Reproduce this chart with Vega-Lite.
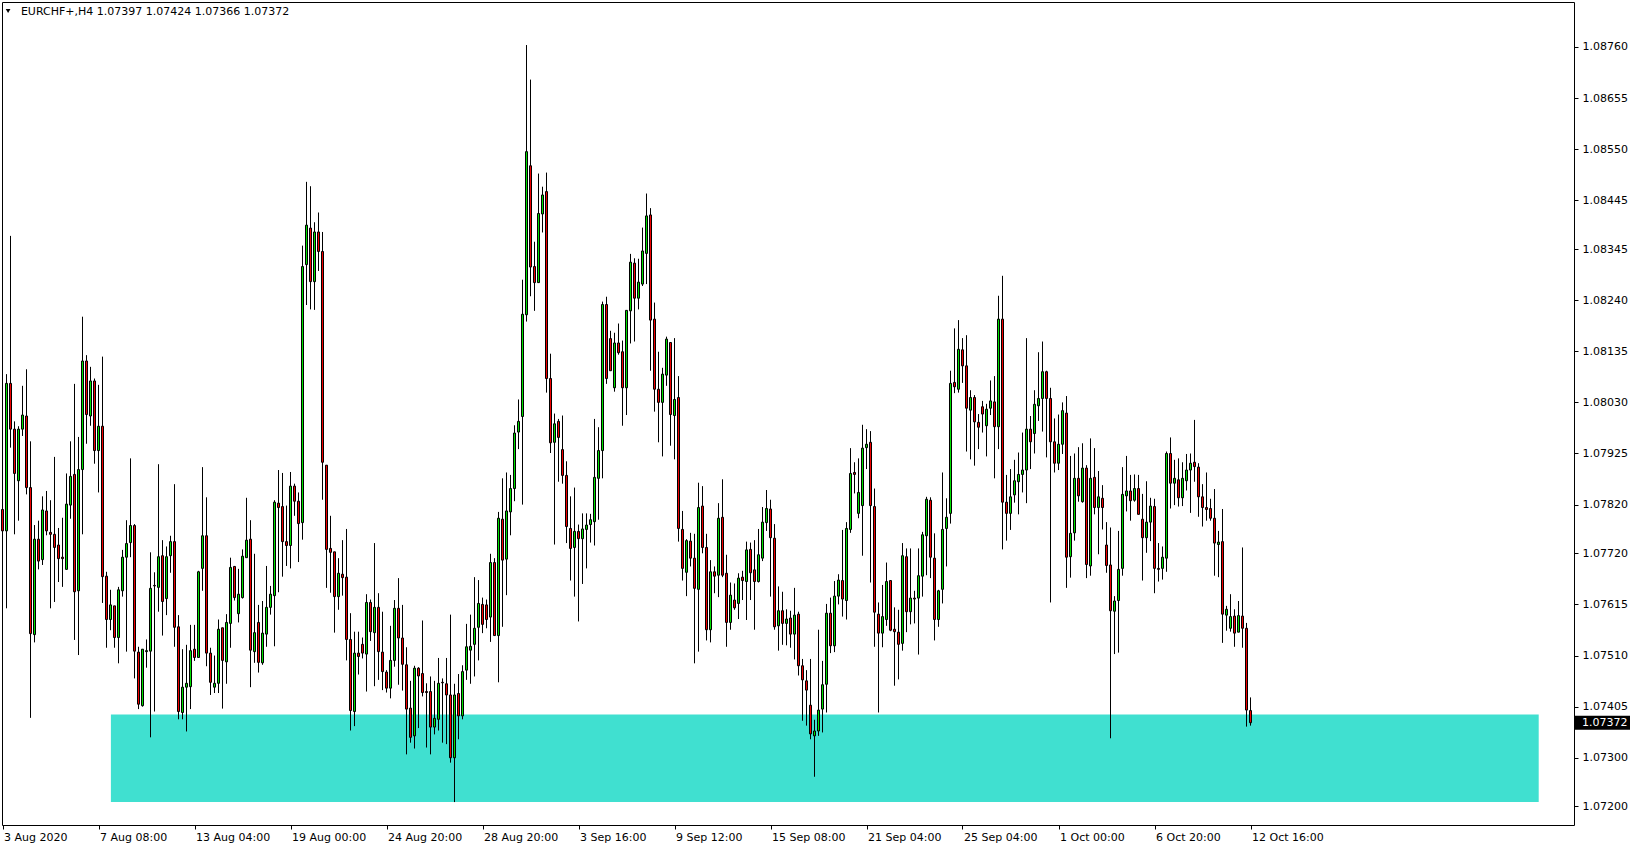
{
"$schema": "https://vega.github.io/schema/vega-lite/v6.json",
"width": 1572, "height": 823,
"autosize": {"type": "none"},
"padding": {"left": 2, "top": 2, "right": 64, "bottom": 25},
"background": "white",
"config": {
  "view": {"stroke": "black", "strokeWidth": 1},
  "scale": {"continuousPadding": 0},
  "axis": {"labelFont": "DejaVu Sans", "labelFontSize": 11, "labelColor": "black", "tickColor": "black", "domain": false, "grid": false, "title": null}
},
"datasets": {
"zone": [{"x1": 27.1, "x2": 384.05, "y1": 1.07209, "y2": 1.07389}],
"last": [{"price": 1.07372}],
"head": [{"t": "EURCHF+,H4  1.07397 1.07424 1.07366 1.07372"}],
"candles": [
{"i":0,"o":1.0781,"h":1.08153,"l":1.07711,"c":1.07766},
{"i":1,"o":1.07766,"h":1.08088,"l":1.07607,"c":1.08069},
{"i":2,"o":1.08069,"h":1.08372,"l":1.07937,"c":1.07975},
{"i":3,"o":1.07975,"h":1.07991,"l":1.07759,"c":1.07884},
{"i":4,"o":1.07869,"h":1.07981,"l":1.07787,"c":1.07975},
{"i":5,"o":1.07975,"h":1.08064,"l":1.07961,"c":1.08004},
{"i":6,"o":1.08002,"h":1.08098,"l":1.07841,"c":1.07855},
{"i":7,"o":1.07855,"h":1.0795,"l":1.07382,"c":1.07555},
{"i":8,"o":1.07553,"h":1.07778,"l":1.07537,"c":1.07749},
{"i":9,"o":1.07749,"h":1.07787,"l":1.07687,"c":1.07704},
{"i":10,"o":1.07707,"h":1.07837,"l":1.07696,"c":1.07809},
{"i":11,"o":1.07807,"h":1.07848,"l":1.07757,"c":1.07766},
{"i":12,"o":1.07763,"h":1.07829,"l":1.07607,"c":1.07759},
{"i":13,"o":1.07759,"h":1.07918,"l":1.0762,"c":1.07732},
{"i":14,"o":1.07737,"h":1.07772,"l":1.07661,"c":1.07709},
{"i":15,"o":1.07712,"h":1.07793,"l":1.07651,"c":1.07709},
{"i":16,"o":1.07687,"h":1.07884,"l":1.07687,"c":1.07821},
{"i":17,"o":1.07819,"h":1.0795,"l":1.07791,"c":1.07878},
{"i":18,"o":1.07882,"h":1.08068,"l":1.07542,"c":1.07641},
{"i":19,"o":1.07643,"h":1.07959,"l":1.07511,"c":1.07892},
{"i":20,"o":1.07892,"h":1.08206,"l":1.07759,"c":1.08115},
{"i":21,"o":1.08115,"h":1.08127,"l":1.07945,"c":1.08005},
{"i":22,"o":1.08002,"h":1.08103,"l":1.07982,"c":1.08074},
{"i":23,"o":1.08074,"h":1.08079,"l":1.07904,"c":1.07931},
{"i":24,"o":1.07931,"h":1.08066,"l":1.07845,"c":1.07981},
{"i":25,"o":1.07981,"h":1.08124,"l":1.07618,"c":1.07672},
{"i":26,"o":1.07673,"h":1.07682,"l":1.07526,"c":1.07584},
{"i":27,"o":1.07584,"h":1.07645,"l":1.07562,"c":1.07614},
{"i":28,"o":1.07612,"h":1.07612,"l":1.07526,"c":1.07547},
{"i":29,"o":1.07547,"h":1.07651,"l":1.07494,"c":1.07645},
{"i":30,"o":1.07643,"h":1.07727,"l":1.07631,"c":1.07712},
{"i":31,"o":1.07712,"h":1.07788,"l":1.07518,"c":1.0774},
{"i":32,"o":1.07742,"h":1.07915,"l":1.07712,"c":1.07777},
{"i":33,"o":1.07777,"h":1.0778,"l":1.07463,"c":1.07519},
{"i":34,"o":1.07517,"h":1.07528,"l":1.074,"c":1.0741},
{"i":35,"o":1.07407,"h":1.07523,"l":1.07405,"c":1.07523},
{"i":36,"o":1.07518,"h":1.07543,"l":1.07485,"c":1.0752},
{"i":37,"o":1.07519,"h":1.07722,"l":1.07342,"c":1.07648},
{"i":38,"o":1.07654,"h":1.07681,"l":1.07395,"c":1.07653},
{"i":39,"o":1.0765,"h":1.07903,"l":1.076,"c":1.07713},
{"i":40,"o":1.07715,"h":1.07747,"l":1.07551,"c":1.07621},
{"i":41,"o":1.07627,"h":1.07734,"l":1.07593,"c":1.07713},
{"i":42,"o":1.07715,"h":1.07756,"l":1.0768,"c":1.07744},
{"i":43,"o":1.07744,"h":1.07862,"l":1.07528,"c":1.07568},
{"i":44,"o":1.07569,"h":1.07593,"l":1.07379,"c":1.07395},
{"i":45,"o":1.07393,"h":1.07523,"l":1.07379,"c":1.07445},
{"i":46,"o":1.07445,"h":1.07532,"l":1.07354,"c":1.07453},
{"i":47,"o":1.07446,"h":1.07573,"l":1.074,"c":1.0752},
{"i":48,"o":1.07523,"h":1.07573,"l":1.07499,"c":1.07506},
{"i":49,"o":1.07506,"h":1.07684,"l":1.07506,"c":1.07682},
{"i":50,"o":1.07689,"h":1.07897,"l":1.07643,"c":1.07756},
{"i":51,"o":1.07756,"h":1.07835,"l":1.07488,"c":1.07515},
{"i":52,"o":1.07515,"h":1.07526,"l":1.07429,"c":1.07455},
{"i":53,"o":1.07445,"h":1.0751,"l":1.07433,"c":1.07453},
{"i":54,"o":1.07453,"h":1.07584,"l":1.07433,"c":1.07564},
{"i":55,"o":1.07567,"h":1.07567,"l":1.07401,"c":1.075},
{"i":56,"o":1.07497,"h":1.07595,"l":1.07452,"c":1.07578},
{"i":57,"o":1.07576,"h":1.07711,"l":1.07526,"c":1.07691},
{"i":58,"o":1.07693,"h":1.07694,"l":1.07623,"c":1.07629},
{"i":59,"o":1.07596,"h":1.07688,"l":1.07578,"c":1.07636},
{"i":60,"o":1.07629,"h":1.07728,"l":1.07627,"c":1.07714},
{"i":61,"o":1.07711,"h":1.07834,"l":1.07711,"c":1.07747},
{"i":62,"o":1.07749,"h":1.07788,"l":1.07445,"c":1.07521},
{"i":63,"o":1.07518,"h":1.07719,"l":1.07495,"c":1.07557},
{"i":64,"o":1.07578,"h":1.07614,"l":1.07475,"c":1.07496},
{"i":65,"o":1.07495,"h":1.07622,"l":1.07491,"c":1.07556},
{"i":66,"o":1.07554,"h":1.07694,"l":1.07528,"c":1.07609},
{"i":67,"o":1.07609,"h":1.07653,"l":1.07594,"c":1.07636},
{"i":68,"o":1.07633,"h":1.07829,"l":1.07529,"c":1.07825},
{"i":69,"o":1.07823,"h":1.07891,"l":1.0764,"c":1.07814},
{"i":70,"o":1.07816,"h":1.07885,"l":1.07672,"c":1.07744},
{"i":71,"o":1.07744,"h":1.07818,"l":1.07694,"c":1.07736},
{"i":72,"o":1.07736,"h":1.07887,"l":1.07689,"c":1.07858},
{"i":73,"o":1.07858,"h":1.07863,"l":1.07797,"c":1.07827},
{"i":74,"o":1.07827,"h":1.07845,"l":1.07702,"c":1.07781},
{"i":75,"o":1.07783,"h":1.08352,"l":1.07748,"c":1.08309},
{"i":76,"o":1.08313,"h":1.08483,"l":1.0823,"c":1.08394},
{"i":77,"o":1.08388,"h":1.08474,"l":1.08221,"c":1.08278},
{"i":78,"o":1.08278,"h":1.084,"l":1.0822,"c":1.0838},
{"i":79,"o":1.0838,"h":1.0842,"l":1.083,"c":1.0834},
{"i":80,"o":1.0834,"h":1.0838,"l":1.0783,"c":1.07907},
{"i":81,"o":1.07901,"h":1.07901,"l":1.07649,"c":1.07728},
{"i":82,"o":1.0773,"h":1.07797,"l":1.07639,"c":1.07722},
{"i":83,"o":1.07723,"h":1.07723,"l":1.07557,"c":1.07631},
{"i":84,"o":1.07631,"h":1.0771,"l":1.07604,"c":1.07679},
{"i":85,"o":1.07677,"h":1.07747,"l":1.07633,"c":1.0767},
{"i":86,"o":1.07671,"h":1.0777,"l":1.075,"c":1.07543},
{"i":87,"o":1.07543,"h":1.07597,"l":1.07356,"c":1.07397},
{"i":88,"o":1.07395,"h":1.07559,"l":1.07365,"c":1.07515},
{"i":89,"o":1.07515,"h":1.07559,"l":1.07471,"c":1.07508},
{"i":90,"o":1.07533,"h":1.07547,"l":1.07504,"c":1.07515},
{"i":91,"o":1.07513,"h":1.07636,"l":1.07436,"c":1.07619},
{"i":92,"o":1.07619,"h":1.07625,"l":1.0754,"c":1.07559},
{"i":93,"o":1.07557,"h":1.07741,"l":1.07447,"c":1.07609},
{"i":94,"o":1.07609,"h":1.07638,"l":1.0746,"c":1.07518},
{"i":95,"o":1.07517,"h":1.076,"l":1.07439,"c":1.07477},
{"i":96,"o":1.07476,"h":1.0748,"l":1.07434,"c":1.07443},
{"i":97,"o":1.07443,"h":1.07571,"l":1.07422,"c":1.075},
{"i":98,"o":1.075,"h":1.07624,"l":1.07487,"c":1.07607},
{"i":99,"o":1.07607,"h":1.07669,"l":1.0745,"c":1.07546},
{"i":100,"o":1.07546,"h":1.07614,"l":1.07438,"c":1.07492},
{"i":101,"o":1.07491,"h":1.07527,"l":1.07307,"c":1.074},
{"i":102,"o":1.07402,"h":1.07458,"l":1.07331,"c":1.07342},
{"i":103,"o":1.07345,"h":1.07489,"l":1.07319,"c":1.07484},
{"i":104,"o":1.07484,"h":1.07486,"l":1.07361,"c":1.07468},
{"i":105,"o":1.07473,"h":1.07582,"l":1.07426,"c":1.07434},
{"i":106,"o":1.07436,"h":1.07453,"l":1.07321,"c":1.07434},
{"i":107,"o":1.07436,"h":1.07467,"l":1.07307,"c":1.07363},
{"i":108,"o":1.07363,"h":1.07458,"l":1.07348,"c":1.07381},
{"i":109,"o":1.07379,"h":1.07505,"l":1.07356,"c":1.07453},
{"i":110,"o":1.07455,"h":1.07463,"l":1.07331,"c":1.07454},
{"i":111,"o":1.07452,"h":1.07505,"l":1.07328,"c":1.07429},
{"i":112,"o":1.07429,"h":1.07594,"l":1.0729,"c":1.073},
{"i":113,"o":1.073,"h":1.07452,"l":1.07209,"c":1.07429},
{"i":114,"o":1.07432,"h":1.07472,"l":1.07338,"c":1.07386},
{"i":115,"o":1.07386,"h":1.0749,"l":1.07379,"c":1.07477},
{"i":116,"o":1.0748,"h":1.07575,"l":1.0746,"c":1.07528},
{"i":117,"o":1.07521,"h":1.07594,"l":1.07452,"c":1.07529},
{"i":118,"o":1.07533,"h":1.07671,"l":1.07467,"c":1.07566},
{"i":119,"o":1.07568,"h":1.07665,"l":1.075,"c":1.07617},
{"i":120,"o":1.07615,"h":1.07629,"l":1.07556,"c":1.07574},
{"i":121,"o":1.07614,"h":1.07625,"l":1.07566,"c":1.07584},
{"i":122,"o":1.07589,"h":1.07719,"l":1.07538,"c":1.07701},
{"i":123,"o":1.07701,"h":1.0771,"l":1.07551,"c":1.07551},
{"i":124,"o":1.07551,"h":1.07805,"l":1.07455,"c":1.07792},
{"i":125,"o":1.0779,"h":1.07874,"l":1.07569,"c":1.07706},
{"i":126,"o":1.07708,"h":1.07886,"l":1.07634,"c":1.07807},
{"i":127,"o":1.07805,"h":1.07881,"l":1.07757,"c":1.07853},
{"i":128,"o":1.07853,"h":1.07983,"l":1.07827,"c":1.07967},
{"i":129,"o":1.07969,"h":1.08036,"l":1.07934,"c":1.07991},
{"i":130,"o":1.08001,"h":1.08282,"l":1.0782,"c":1.08211},
{"i":131,"o":1.0821,"h":1.08764,"l":1.08196,"c":1.08545},
{"i":132,"o":1.08516,"h":1.08693,"l":1.08248,"c":1.08308},
{"i":133,"o":1.08309,"h":1.0836,"l":1.08218,"c":1.08276},
{"i":134,"o":1.08276,"h":1.085,"l":1.08276,"c":1.08418},
{"i":135,"o":1.08417,"h":1.08473,"l":1.08379,"c":1.08456},
{"i":136,"o":1.08463,"h":1.08502,"l":1.0805,"c":1.08079},
{"i":137,"o":1.08079,"h":1.0813,"l":1.07926,"c":1.07947},
{"i":138,"o":1.07948,"h":1.08007,"l":1.07738,"c":1.07986},
{"i":139,"o":1.07991,"h":1.07996,"l":1.07867,"c":1.07958},
{"i":140,"o":1.07933,"h":1.08003,"l":1.07863,"c":1.0788},
{"i":141,"o":1.0788,"h":1.07909,"l":1.07741,"c":1.07775},
{"i":142,"o":1.07771,"h":1.07837,"l":1.07664,"c":1.0773},
{"i":143,"o":1.07732,"h":1.07855,"l":1.07631,"c":1.07765},
{"i":144,"o":1.07765,"h":1.07779,"l":1.0758,"c":1.0775},
{"i":145,"o":1.0775,"h":1.07802,"l":1.07657,"c":1.0777},
{"i":146,"o":1.07769,"h":1.07802,"l":1.07689,"c":1.07778},
{"i":147,"o":1.07779,"h":1.07801,"l":1.07742,"c":1.07789},
{"i":148,"o":1.07785,"h":1.07996,"l":1.07736,"c":1.07876},
{"i":149,"o":1.07874,"h":1.07979,"l":1.07789,"c":1.07931},
{"i":150,"o":1.07931,"h":1.08237,"l":1.07874,"c":1.08231},
{"i":151,"o":1.08231,"h":1.08247,"l":1.08068,"c":1.08079},
{"i":152,"o":1.08161,"h":1.08177,"l":1.08095,"c":1.08095},
{"i":153,"o":1.0806,"h":1.08173,"l":1.08052,"c":1.08152},
{"i":154,"o":1.08152,"h":1.08192,"l":1.08128,"c":1.08132},
{"i":155,"o":1.08134,"h":1.08157,"l":1.07982,"c":1.0806},
{"i":156,"o":1.0806,"h":1.08219,"l":1.08004,"c":1.08219},
{"i":157,"o":1.08218,"h":1.08335,"l":1.08151,"c":1.08318},
{"i":158,"o":1.08316,"h":1.08326,"l":1.08155,"c":1.08244},
{"i":159,"o":1.08244,"h":1.08325,"l":1.08221,"c":1.08277},
{"i":160,"o":1.08273,"h":1.08389,"l":1.08269,"c":1.08341},
{"i":161,"o":1.08336,"h":1.08459,"l":1.08273,"c":1.08413},
{"i":162,"o":1.08415,"h":1.08429,"l":1.08095,"c":1.08199},
{"i":163,"o":1.08201,"h":1.08235,"l":1.08011,"c":1.08057},
{"i":164,"o":1.08057,"h":1.08134,"l":1.07948,"c":1.0803},
{"i":165,"o":1.0803,"h":1.08101,"l":1.07919,"c":1.08088},
{"i":166,"o":1.08086,"h":1.08165,"l":1.08064,"c":1.0816},
{"i":167,"o":1.08153,"h":1.08153,"l":1.07941,"c":1.08005},
{"i":168,"o":1.08003,"h":1.08162,"l":1.07913,"c":1.08036},
{"i":169,"o":1.0804,"h":1.08084,"l":1.07744,"c":1.07771},
{"i":170,"o":1.07769,"h":1.07807,"l":1.07664,"c":1.07689},
{"i":171,"o":1.07681,"h":1.07749,"l":1.07632,"c":1.07746},
{"i":172,"o":1.07745,"h":1.07762,"l":1.07693,"c":1.0771},
{"i":173,"o":1.0771,"h":1.0776,"l":1.07494,"c":1.07648},
{"i":174,"o":1.07646,"h":1.07865,"l":1.07518,"c":1.07814},
{"i":175,"o":1.07817,"h":1.07858,"l":1.0772,"c":1.07732},
{"i":176,"o":1.07732,"h":1.0776,"l":1.07541,"c":1.07563},
{"i":177,"o":1.07563,"h":1.07706,"l":1.07537,"c":1.07682},
{"i":178,"o":1.07682,"h":1.07693,"l":1.07638,"c":1.07673},
{"i":179,"o":1.07675,"h":1.07823,"l":1.0763,"c":1.07792},
{"i":180,"o":1.07794,"h":1.07872,"l":1.07671,"c":1.07675},
{"i":181,"o":1.07679,"h":1.07717,"l":1.07528,"c":1.07578},
{"i":182,"o":1.07578,"h":1.0766,"l":1.07563,"c":1.07634},
{"i":183,"o":1.07624,"h":1.07658,"l":1.07604,"c":1.07608},
{"i":184,"o":1.07617,"h":1.07679,"l":1.07585,"c":1.07669},
{"i":185,"o":1.07671,"h":1.07684,"l":1.07624,"c":1.07664},
{"i":186,"o":1.07662,"h":1.07744,"l":1.07583,"c":1.07727},
{"i":187,"o":1.07728,"h":1.07742,"l":1.07624,"c":1.0768},
{"i":188,"o":1.07686,"h":1.07747,"l":1.07563,"c":1.07662},
{"i":189,"o":1.07662,"h":1.0777,"l":1.0766,"c":1.07717},
{"i":190,"o":1.0771,"h":1.07815,"l":1.07704,"c":1.07784},
{"i":191,"o":1.07783,"h":1.0785,"l":1.07766,"c":1.07812},
{"i":192,"o":1.07811,"h":1.0783,"l":1.07631,"c":1.07752},
{"i":193,"o":1.07751,"h":1.0778,"l":1.07563,"c":1.07569},
{"i":194,"o":1.07571,"h":1.07652,"l":1.0752,"c":1.07602},
{"i":195,"o":1.07602,"h":1.07641,"l":1.07532,"c":1.07576},
{"i":196,"o":1.07576,"h":1.07605,"l":1.07531,"c":1.07585},
{"i":197,"o":1.07587,"h":1.07602,"l":1.07526,"c":1.07554},
{"i":198,"o":1.07554,"h":1.07649,"l":1.07502,"c":1.07593},
{"i":199,"o":1.07595,"h":1.076,"l":1.07469,"c":1.07489},
{"i":200,"o":1.07489,"h":1.07503,"l":1.07376,"c":1.0746},
{"i":201,"o":1.07458,"h":1.0748,"l":1.07366,"c":1.07439},
{"i":202,"o":1.07408,"h":1.07503,"l":1.07338,"c":1.07349},
{"i":203,"o":1.07345,"h":1.07378,"l":1.07261,"c":1.07355},
{"i":204,"o":1.07355,"h":1.07563,"l":1.07345,"c":1.07398},
{"i":205,"o":1.074,"h":1.07499,"l":1.07352,"c":1.0745},
{"i":206,"o":1.07451,"h":1.07616,"l":1.07393,"c":1.07597},
{"i":207,"o":1.07597,"h":1.07629,"l":1.07515,"c":1.0753},
{"i":208,"o":1.0753,"h":1.07663,"l":1.07517,"c":1.07632},
{"i":209,"o":1.07632,"h":1.07677,"l":1.07615,"c":1.07665},
{"i":210,"o":1.07664,"h":1.07768,"l":1.0759,"c":1.07626},
{"i":211,"o":1.07623,"h":1.07784,"l":1.07584,"c":1.07771},
{"i":212,"o":1.07769,"h":1.07936,"l":1.07762,"c":1.07884},
{"i":213,"o":1.07886,"h":1.07907,"l":1.07843,"c":1.07882},
{"i":214,"o":1.07802,"h":1.07915,"l":1.07792,"c":1.07845},
{"i":215,"o":1.07818,"h":1.07984,"l":1.07715,"c":1.07936},
{"i":216,"o":1.07937,"h":1.07975,"l":1.07893,"c":1.07944},
{"i":217,"o":1.07948,"h":1.07971,"l":1.0766,"c":1.07818},
{"i":218,"o":1.07816,"h":1.07853,"l":1.07528,"c":1.07599},
{"i":219,"o":1.07595,"h":1.07619,"l":1.07393,"c":1.07556},
{"i":220,"o":1.07556,"h":1.07655,"l":1.07527,"c":1.0759},
{"i":221,"o":1.07584,"h":1.07701,"l":1.07571,"c":1.07662},
{"i":222,"o":1.07664,"h":1.07664,"l":1.0756,"c":1.07562},
{"i":223,"o":1.07564,"h":1.07609,"l":1.07448,"c":1.07559},
{"i":224,"o":1.07558,"h":1.07604,"l":1.07461,"c":1.07533},
{"i":225,"o":1.07535,"h":1.07741,"l":1.0752,"c":1.07715},
{"i":226,"o":1.07713,"h":1.0773,"l":1.07558,"c":1.076},
{"i":227,"o":1.076,"h":1.0773,"l":1.07574,"c":1.07628},
{"i":228,"o":1.07628,"h":1.07643,"l":1.07576,"c":1.07626},
{"i":229,"o":1.07628,"h":1.0773,"l":1.07512,"c":1.07674},
{"i":230,"o":1.07673,"h":1.07764,"l":1.07631,"c":1.07758},
{"i":231,"o":1.07756,"h":1.07836,"l":1.07675,"c":1.07831},
{"i":232,"o":1.07829,"h":1.07835,"l":1.07669,"c":1.07712},
{"i":233,"o":1.0771,"h":1.07761,"l":1.07541,"c":1.07584},
{"i":234,"o":1.07584,"h":1.07645,"l":1.07569,"c":1.07643},
{"i":235,"o":1.07646,"h":1.07886,"l":1.07617,"c":1.07769},
{"i":236,"o":1.07771,"h":1.07833,"l":1.07693,"c":1.07794},
{"i":237,"o":1.07802,"h":1.08095,"l":1.07781,"c":1.08069},
{"i":238,"o":1.08071,"h":1.08182,"l":1.08049,"c":1.08062},
{"i":239,"o":1.08057,"h":1.08199,"l":1.0805,"c":1.08139},
{"i":240,"o":1.08138,"h":1.08162,"l":1.0807,"c":1.08105},
{"i":241,"o":1.08105,"h":1.08168,"l":1.07929,"c":1.08018},
{"i":242,"o":1.08014,"h":1.08055,"l":1.07913,"c":1.0804},
{"i":243,"o":1.0804,"h":1.08045,"l":1.079,"c":1.0799},
{"i":244,"o":1.07989,"h":1.08006,"l":1.07934,"c":1.07979},
{"i":245,"o":1.08021,"h":1.08033,"l":1.07968,"c":1.08006},
{"i":246,"o":1.07982,"h":1.08027,"l":1.07919,"c":1.08016},
{"i":247,"o":1.08018,"h":1.08075,"l":1.08004,"c":1.08033},
{"i":248,"o":1.08031,"h":1.08084,"l":1.07874,"c":1.0798},
{"i":249,"o":1.0798,"h":1.08249,"l":1.07934,"c":1.08201},
{"i":250,"o":1.08201,"h":1.0829,"l":1.07728,"c":1.07825},
{"i":251,"o":1.07825,"h":1.07881,"l":1.07746,"c":1.07802},
{"i":252,"o":1.07802,"h":1.07893,"l":1.07768,"c":1.07836},
{"i":253,"o":1.0784,"h":1.07912,"l":1.07824,"c":1.07869},
{"i":254,"o":1.07867,"h":1.07927,"l":1.078,"c":1.07882},
{"i":255,"o":1.07882,"h":1.07968,"l":1.07845,"c":1.07891},
{"i":256,"o":1.07891,"h":1.08162,"l":1.07823,"c":1.07975},
{"i":257,"o":1.07975,"h":1.08002,"l":1.07893,"c":1.07949},
{"i":258,"o":1.07966,"h":1.08055,"l":1.07925,"c":1.08026},
{"i":259,"o":1.08023,"h":1.08133,"l":1.07992,"c":1.08038},
{"i":260,"o":1.08038,"h":1.08155,"l":1.0797,"c":1.08093},
{"i":261,"o":1.08093,"h":1.08095,"l":1.07917,"c":1.08038},
{"i":262,"o":1.08038,"h":1.0806,"l":1.07619,"c":1.07949},
{"i":263,"o":1.07949,"h":1.07997,"l":1.07886,"c":1.07905},
{"i":264,"o":1.07905,"h":1.08005,"l":1.07891,"c":1.07944},
{"i":265,"o":1.07944,"h":1.0803,"l":1.07924,"c":1.08013},
{"i":266,"o":1.08008,"h":1.08043,"l":1.07649,"c":1.07712},
{"i":267,"o":1.07713,"h":1.0792,"l":1.0767,"c":1.07761},
{"i":268,"o":1.07762,"h":1.07925,"l":1.07746,"c":1.07874},
{"i":269,"o":1.07874,"h":1.07938,"l":1.07826,"c":1.07838},
{"i":270,"o":1.07826,"h":1.07946,"l":1.07824,"c":1.07895},
{"i":271,"o":1.07895,"h":1.07901,"l":1.07669,"c":1.07697},
{"i":272,"o":1.07694,"h":1.07956,"l":1.07674,"c":1.07874},
{"i":273,"o":1.07876,"h":1.07936,"l":1.078,"c":1.07814},
{"i":274,"o":1.07814,"h":1.07889,"l":1.07718,"c":1.07836},
{"i":275,"o":1.07833,"h":1.0786,"l":1.07769,"c":1.07814},
{"i":276,"o":1.07737,"h":1.07784,"l":1.0768,"c":1.07695},
{"i":277,"o":1.07696,"h":1.07773,"l":1.0734,"c":1.07602},
{"i":278,"o":1.07601,"h":1.07632,"l":1.07513,"c":1.07622},
{"i":279,"o":1.07623,"h":1.07766,"l":1.07516,"c":1.07687},
{"i":280,"o":1.07689,"h":1.07897,"l":1.07674,"c":1.07841},
{"i":281,"o":1.07838,"h":1.0792,"l":1.07806,"c":1.07848},
{"i":282,"o":1.07848,"h":1.07881,"l":1.07787,"c":1.07828},
{"i":283,"o":1.07829,"h":1.07882,"l":1.07826,"c":1.07853},
{"i":284,"o":1.07853,"h":1.07881,"l":1.078,"c":1.078},
{"i":285,"o":1.0779,"h":1.07842,"l":1.07664,"c":1.07752},
{"i":286,"o":1.07752,"h":1.07868,"l":1.07721,"c":1.07784},
{"i":287,"o":1.07784,"h":1.07834,"l":1.07745,"c":1.07817},
{"i":288,"o":1.07816,"h":1.07832,"l":1.07638,"c":1.07689},
{"i":289,"o":1.07689,"h":1.07741,"l":1.07662,"c":1.07687},
{"i":290,"o":1.07689,"h":1.07734,"l":1.07666,"c":1.07712},
{"i":291,"o":1.0771,"h":1.07929,"l":1.07682,"c":1.07925},
{"i":292,"o":1.07925,"h":1.07958,"l":1.07812,"c":1.07864},
{"i":293,"o":1.07864,"h":1.07912,"l":1.07819,"c":1.07874},
{"i":294,"o":1.07871,"h":1.07915,"l":1.07816,"c":1.07834},
{"i":295,"o":1.07834,"h":1.07907,"l":1.07817,"c":1.07874},
{"i":296,"o":1.07869,"h":1.07924,"l":1.07849,"c":1.07891},
{"i":297,"o":1.07891,"h":1.07925,"l":1.07803,"c":1.07905},
{"i":298,"o":1.07907,"h":1.07994,"l":1.07867,"c":1.07898},
{"i":299,"o":1.07897,"h":1.07905,"l":1.07795,"c":1.07836},
{"i":300,"o":1.07836,"h":1.07862,"l":1.07775,"c":1.07814},
{"i":301,"o":1.07814,"h":1.07886,"l":1.07787,"c":1.0781},
{"i":302,"o":1.07812,"h":1.07832,"l":1.07787,"c":1.07792},
{"i":303,"o":1.07792,"h":1.07852,"l":1.07674,"c":1.07741},
{"i":304,"o":1.07738,"h":1.07766,"l":1.07671,"c":1.07743},
{"i":305,"o":1.07744,"h":1.07811,"l":1.07536,"c":1.07595},
{"i":306,"o":1.07593,"h":1.07612,"l":1.07561,"c":1.07605},
{"i":307,"o":1.07566,"h":1.07636,"l":1.07559,"c":1.0759},
{"i":308,"o":1.07591,"h":1.07605,"l":1.07528,"c":1.07556},
{"i":309,"o":1.07558,"h":1.07622,"l":1.07558,"c":1.07592},
{"i":310,"o":1.07591,"h":1.07732,"l":1.07526,"c":1.07566},
{"i":311,"o":1.07566,"h":1.07577,"l":1.07364,"c":1.07398},
{"i":312,"o":1.07397,"h":1.07424,"l":1.07366,"c":1.07372}
]
},
"layer": [
{
  "data": {"name": "zone"},
  "mark": {"type": "rect", "color": "#40E0D0"},
  "encoding": {
    "x": {"field": "x1", "type": "quantitative", "scale": {"domain": [-0.125, 392.875], "nice": false, "zero": false, "padding": 0},
      "axis": {"orient": "bottom", "values": [0,24,48,72,96,120,144,168,192,216,240,264,288,312], "labelExpr": "['3 Aug 2020','7 Aug 08:00','13 Aug 04:00','19 Aug 00:00','24 Aug 20:00','28 Aug 20:00','3 Sep 16:00','9 Sep 12:00','15 Sep 08:00','21 Sep 04:00','25 Sep 04:00','1 Oct 00:00','6 Oct 20:00','12 Oct 16:00'][round(datum.value/24)]", "labelAlign": "left", "labelOffset": 1, "labelPadding": 2, "tickSize": 4, "labelOverlap": false, "labelBound": false, "labelFlush": false}},
    "x2": {"field": "x2"},
    "y": {"field": "y1", "type": "quantitative", "scale": {"domain": [1.071619, 1.088524], "nice": false, "zero": false, "padding": 0},
      "axis": {"orient": "right", "values": [1.0876,1.08655,1.0855,1.08445,1.08345,1.0824,1.08135,1.0803,1.07925,1.0782,1.0772,1.07615,1.0751,1.07405,1.073,1.072], "format": ".5f", "tickSize": 4, "labelPadding": 4, "labelOverlap": false, "labelBound": false, "labelFlush": false}},
    "y2": {"field": "y2"}
  }
},
{
  "data": {"name": "candles"},
  "mark": {"type": "rule", "color": "black", "strokeWidth": 1},
  "encoding": {
    "x": {"field": "i", "type": "quantitative", "scale": {"domain": [-0.125, 392.875], "nice": false, "zero": false, "padding": 0}},
    "y": {"field": "l", "type": "quantitative", "scale": {"domain": [1.071619, 1.088524], "nice": false, "zero": false, "padding": 0}},
    "y2": {"field": "h"}
  }
},
{
  "data": {"name": "candles"},
  "mark": {"type": "bar", "orient": "vertical", "width": 2, "stroke": "black", "strokeWidth": 1},
  "encoding": {
    "x": {"field": "i", "type": "quantitative", "scale": {"domain": [-0.125, 392.875], "nice": false, "zero": false, "padding": 0}},
    "y": {"field": "o", "type": "quantitative", "scale": {"domain": [1.071619, 1.088524], "nice": false, "zero": false, "padding": 0}},
    "y2": {"field": "c"},
    "color": {"condition": {"test": "datum.c >= datum.o", "value": "#00E000"}, "value": "#F00000"}
  }
},
{
  "data": {"name": "head"},
  "mark": {"type": "text", "align": "left", "baseline": "middle", "font": "DejaVu Sans", "fontSize": 11, "color": "black"},
  "encoding": {
    "x": {"datum": 4.6, "type": "quantitative"},
    "y": {"datum": 1.08831, "type": "quantitative"},
    "text": {"field": "t"}
  }
},
{
  "data": {"name": "head"},
  "mark": {"type": "point", "shape": "triangle-down", "filled": true, "color": "black", "size": 22, "opacity": 1},
  "encoding": {
    "x": {"datum": 1.4, "type": "quantitative"},
    "y": {"datum": 1.08834, "type": "quantitative"}
  }
},
{
  "data": {"name": "last"},
  "mark": {"type": "rect", "color": "black", "clip": false, "xOffset": 1, "x2Offset": 56, "yOffset": -7, "y2Offset": 7},
  "encoding": {
    "x": {"datum": 392.875, "type": "quantitative"},
    "x2": {"datum": 392.875},
    "y": {"field": "price", "type": "quantitative"},
    "y2": {"field": "price"}
  }
},
{
  "data": {"name": "last"},
  "mark": {"type": "text", "align": "left", "baseline": "middle", "dx": 8, "color": "white", "font": "DejaVu Sans", "fontSize": 11, "clip": false},
  "encoding": {
    "x": {"datum": 392.875, "type": "quantitative"},
    "y": {"field": "price", "type": "quantitative"},
    "text": {"field": "price", "format": ".5f"}
  }
}
]
}
